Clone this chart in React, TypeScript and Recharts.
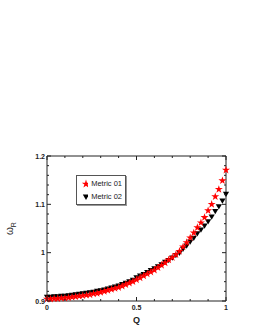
import { ScatterChart, Scatter, XAxis, YAxis, Symbols } from "recharts";

// ── Data ──────────────────────────────────────────────────────────────────────

const qValues = [
    0, 0.02, 0.04, 0.06, 0.08, 0.1, 0.12, 0.14, 0.16, 0.18,
    0.2, 0.22, 0.24, 0.26, 0.28, 0.3, 0.32, 0.34, 0.36, 0.38,
    0.4, 0.42, 0.44, 0.46, 0.48, 0.5, 0.52, 0.54, 0.56, 0.58,
    0.6, 0.62, 0.64, 0.66, 0.68, 0.7, 0.72, 0.74, 0.76, 0.78,
    0.8, 0.82, 0.84, 0.86, 0.88, 0.9, 0.92, 0.94, 0.96, 0.98, 1,
];

const metric01 = [
    0.904, 0.904, 0.905, 0.905, 0.906, 0.906, 0.907, 0.908, 0.909, 0.91,
    0.911, 0.912, 0.913, 0.915, 0.916, 0.918, 0.92, 0.922, 0.924, 0.926,
    0.928, 0.931, 0.934, 0.937, 0.94, 0.944, 0.948, 0.952, 0.956, 0.96,
    0.964, 0.969, 0.974, 0.979, 0.985, 0.99, 0.996, 1.003, 1.012, 1.021,
    1.031, 1.041, 1.052, 1.062, 1.073, 1.087, 1.1, 1.116, 1.131, 1.149, 1.171,
];

const metric02 = [
    0.908, 0.908, 0.909, 0.909, 0.91, 0.91, 0.911, 0.912, 0.913, 0.914,
    0.915, 0.916, 0.917, 0.918, 0.92, 0.921, 0.923, 0.925, 0.927, 0.929,
    0.931, 0.934, 0.937, 0.94, 0.943, 0.948, 0.952, 0.955, 0.959, 0.963,
    0.967, 0.971, 0.975, 0.98, 0.984, 0.989, 0.994, 0.999, 1.007, 1.014,
    1.022, 1.03, 1.039, 1.047, 1.055, 1.064, 1.074, 1.085, 1.095, 1.107, 1.121,
];

const xTicks = [0, 0.1, 0.2, 0.3, 0.4, 0.5, 0.6, 0.7, 0.8, 0.9, 1];
const xMajor = [0, 0.5, 1];
const yTicks = [
    0.9, 0.92, 0.94, 0.96, 0.98, 1, 1.02, 1.04, 1.06, 1.08,
    1.1, 1.12, 1.14, 1.16, 1.18, 1.2,
];
const yMajor = [0.9, 1, 1.1, 1.2];

const series1 = qValues.map((q, i) => ({ q, v: metric01[i] }));
const series2 = qValues.map((q, i) => ({ q, v: metric02[i] }));

// ── Helpers ───────────────────────────────────────────────────────────────────

const FONT = "'Liberation Sans', Arial, sans-serif";
const AXIS = "#222";

const isIn = (v: number, list: number[]) => list.some((m) => Math.abs(m - v) < 1e-6);
const fmt = (v: number) => String(Math.round(v * 10) / 10);

function BottomTick({ x, y, payload }: any) {
    const major = isIn(payload.value, xMajor);
    return (
        <g>
            <line x1={x} x2={x} y1={y} y2={y - (major ? 4 : 2)} stroke={AXIS} />
            {major && (
                <text x={x} y={y + 9} textAnchor="middle" fontSize={7} fontWeight="bold" fill="#222" fontFamily={FONT}>
                    {fmt(payload.value)}
                </text>
            )}
        </g>
    );
}

function TopTick({ x, y, payload }: any) {
    const major = isIn(payload.value, xMajor);
    return <line x1={x} x2={x} y1={y} y2={y + (major ? 4 : 2)} stroke={AXIS} />;
}

function LeftTick({ x, y, payload }: any) {
    const major = isIn(payload.value, yMajor);
    return (
        <g>
            <line x1={x} x2={x + (major ? 4 : 2)} y1={y} y2={y} stroke={AXIS} />
            {major && (
                <text x={x - 2} y={y + 2.5} textAnchor="end" fontSize={7} fontWeight="bold" fill="#222" fontFamily={FONT}>
                    {fmt(payload.value)}
                </text>
            )}
        </g>
    );
}

function RightTick({ x, y, payload }: any) {
    const major = isIn(payload.value, yMajor);
    return <line x1={x} x2={x - (major ? 4 : 2)} y1={y} y2={y} stroke={AXIS} />;
}

function StarShape({ cx, cy }: any) {
    return <Symbols type="star" cx={cx} cy={cy} size={20} fill="#ff0000" stroke="none" />;
}

function TriangleDown({ cx, cy }: any) {
    const s = 3.1;
    return (
        <path
            d={`M${cx - s},${cy - s * 0.8} L${cx + s},${cy - s * 0.8} L${cx},${cy + s * 0.9} Z`}
            fill="#000"
        />
    );
}

function OmegaLabel({ viewBox }: any) {
    const cx = viewBox.x + 13;
    const cy = viewBox.y + viewBox.height / 2;
    return (
        <text
            transform={`translate(${cx},${cy}) rotate(-90)`}
            textAnchor="middle"
            fontSize={10}
            fill="#222"
            fontFamily={FONT}
        >
            ω<tspan fontSize={7} dy={2.5}>R</tspan>
        </text>
    );
}

function LegendBox() {
    const items = [
        { name: "Metric 01", icon: <Symbols type="star" cx={5} cy={5} size={22} fill="#ff0000" /> },
        {
            name: "Metric 02",
            icon: <path d="M1.8,2.4 L8.2,2.4 L5,8 Z" fill="#000" />,
        },
    ];
    return (
        <div
            style={{
                position: "absolute",
                left: 76,
                top: 175,
                width: 50,
                boxSizing: "border-box",
                border: "1px solid #555",
                background: "#fff",
                padding: "1px 3px 1px 4px",
                fontFamily: FONT,
                fontSize: 7.5,
                color: "#222",
                boxShadow: "1px 1px 0 #999",
            }}
        >
            {items.map((it) => (
                <div key={it.name} style={{ display: "flex", alignItems: "center", height: 13 }}>
                    <svg width={10} height={10} style={{ marginRight: 3 }}>
                        {it.icon}
                    </svg>
                    <span style={{ whiteSpace: "nowrap" }}>{it.name}</span>
                </div>
            ))}
        </div>
    );
}

// ── Main export ───────────────────────────────────────────────────────────────

export default function App() {
    return (
        <div style={{ position: "absolute", left: 0, top: 0, width: 255, height: 330, background: "#fff" }}>
            <ScatterChart width={255} height={330} margin={{ top: 155, right: 28, bottom: 0, left: 0 }}>
                <XAxis
                    xAxisId="b"
                    dataKey="q"
                    type="number"
                    domain={[0, 1]}
                    ticks={xTicks}
                    interval={0}
                    height={29}
                    tickSize={0}
                    tickMargin={0}
                    tickLine={false}
                    tick={<BottomTick />}
                    axisLine={{ stroke: AXIS }}
                    label={{ value: "Q", position: "insideBottom", offset: 7, fontSize: 9, fontWeight: "bold", fill: "#222", fontFamily: FONT }}
                />
                <XAxis
                    xAxisId="t"
                    dataKey="q"
                    type="number"
                    orientation="top"
                    domain={[0, 1]}
                    ticks={xTicks}
                    interval={0}
                    height={1}
                    tickSize={0}
                    tickMargin={0}
                    tickLine={false}
                    tick={<TopTick />}
                    axisLine={{ stroke: AXIS }}
                />
                <YAxis
                    yAxisId="l"
                    dataKey="v"
                    type="number"
                    domain={[0.9, 1.2]}
                    ticks={yTicks}
                    interval={0}
                    width={47}
                    tickSize={0}
                    tickMargin={0}
                    tickLine={false}
                    tick={<LeftTick />}
                    axisLine={{ stroke: AXIS }}
                    label={<OmegaLabel />}
                />
                <YAxis
                    yAxisId="r"
                    dataKey="v"
                    type="number"
                    orientation="right"
                    domain={[0.9, 1.2]}
                    ticks={yTicks}
                    interval={0}
                    width={1}
                    tickSize={0}
                    tickMargin={0}
                    tickLine={false}
                    tick={<RightTick />}
                    axisLine={{ stroke: AXIS }}
                />
                <Scatter
                    name="Metric 02"
                    data={series2}
                    xAxisId="b"
                    yAxisId="l"
                    shape={<TriangleDown />}
                    isAnimationActive={false}
                />
                <Scatter
                    name="Metric 01"
                    data={series1}
                    xAxisId="b"
                    yAxisId="l"
                    shape={<StarShape />}
                    isAnimationActive={false}
                />
                <Scatter
                    data={series1}
                    xAxisId="t"
                    yAxisId="r"
                    shape={() => <g />}
                    legendType="none"
                    isAnimationActive={false}
                />
            </ScatterChart>
            <LegendBox />
        </div>
    );
}
